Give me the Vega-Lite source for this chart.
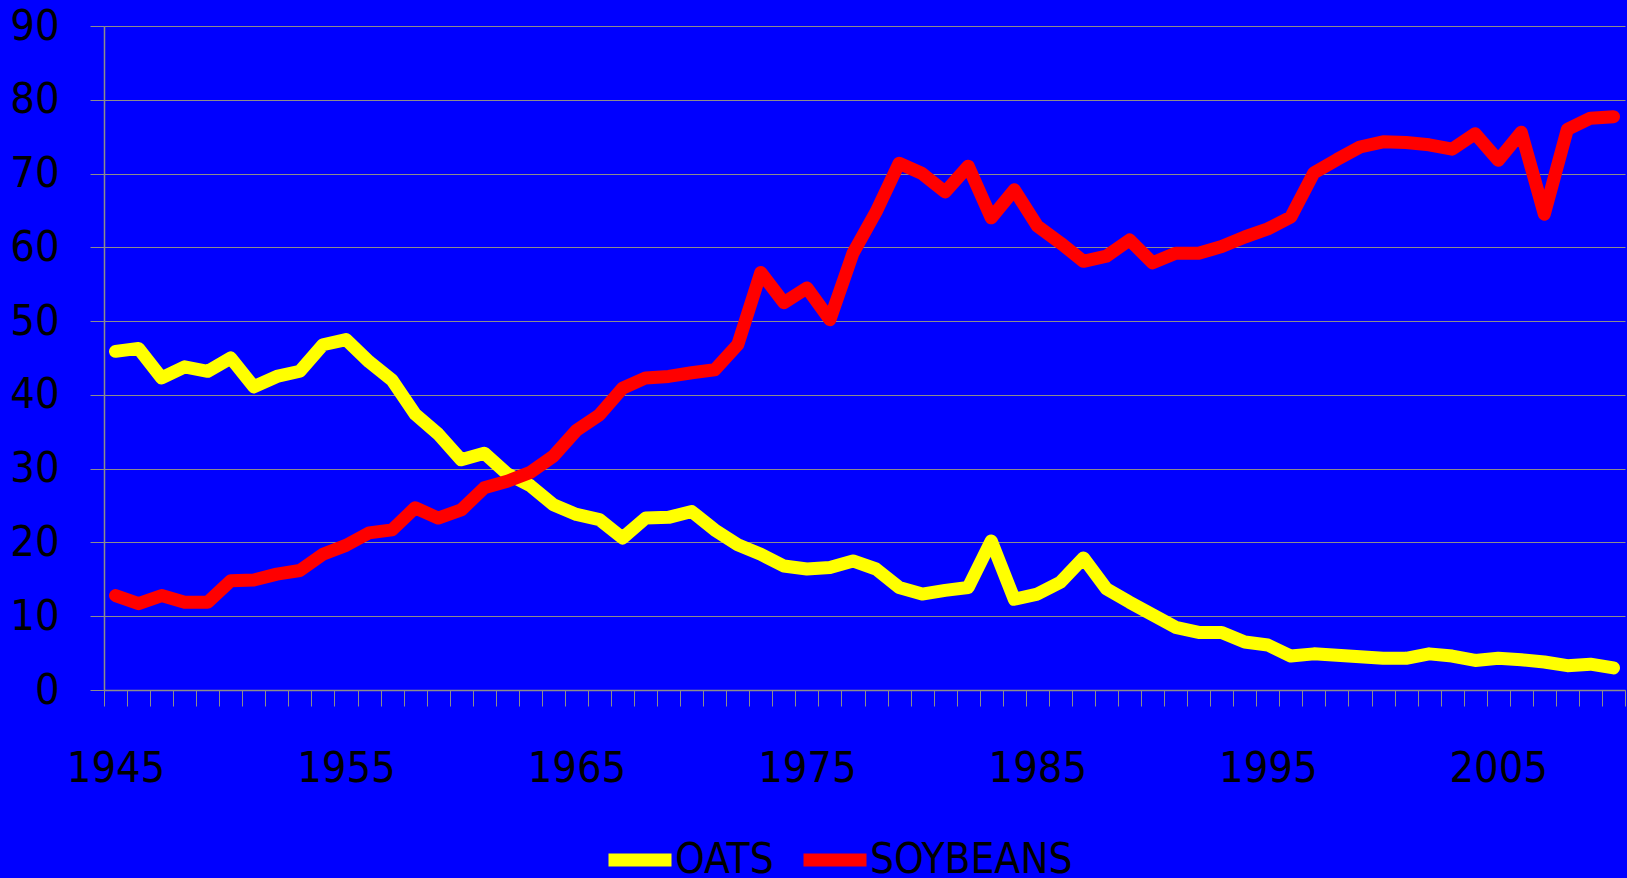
{
  "$schema": "https://vega.github.io/schema/vega-lite/v6.json",
  "autosize": "none",
  "width": 1521,
  "height": 664,
  "padding": {"left": 104, "top": 26, "right": 2, "bottom": 188},
  "background": "#0000FF",
  "config": {
    "view": {"stroke": null},
    "font": "DejaVu Sans Condensed",
    "axis": {"labelFont": "DejaVu Sans Condensed", "labelColor": "#000000", "labelFontSize": 43, "gridColor": "#8c8c8c", "domainColor": "#8c8c8c", "tickColor": "#8c8c8c", "gridWidth": 1, "domainWidth": 1.5, "tickWidth": 1, "title": null}
  },
  "data": {"values": [
    {"year":1945,"crop":"OATS","value":45.9},{"year":1946,"crop":"OATS","value":46.3},{"year":1947,"crop":"OATS","value":42.3},{"year":1948,"crop":"OATS","value":43.8},{"year":1949,"crop":"OATS","value":43.2},{"year":1950,"crop":"OATS","value":45.0},{"year":1951,"crop":"OATS","value":41.1},{"year":1952,"crop":"OATS","value":42.5},{"year":1953,"crop":"OATS","value":43.2},{"year":1954,"crop":"OATS","value":46.8},{"year":1955,"crop":"OATS","value":47.5},{"year":1956,"crop":"OATS","value":44.5},{"year":1957,"crop":"OATS","value":42.0},{"year":1958,"crop":"OATS","value":37.4},{"year":1959,"crop":"OATS","value":34.7},{"year":1960,"crop":"OATS","value":31.2},{"year":1961,"crop":"OATS","value":32.1},{"year":1962,"crop":"OATS","value":29.3},{"year":1963,"crop":"OATS","value":27.7},{"year":1964,"crop":"OATS","value":25.1},{"year":1965,"crop":"OATS","value":23.8},{"year":1966,"crop":"OATS","value":23.1},{"year":1967,"crop":"OATS","value":20.6},{"year":1968,"crop":"OATS","value":23.3},{"year":1969,"crop":"OATS","value":23.4},{"year":1970,"crop":"OATS","value":24.2},{"year":1971,"crop":"OATS","value":21.7},{"year":1972,"crop":"OATS","value":19.7},{"year":1973,"crop":"OATS","value":18.4},{"year":1974,"crop":"OATS","value":16.8},{"year":1975,"crop":"OATS","value":16.4},{"year":1976,"crop":"OATS","value":16.6},{"year":1977,"crop":"OATS","value":17.5},{"year":1978,"crop":"OATS","value":16.4},{"year":1979,"crop":"OATS","value":13.9},{"year":1980,"crop":"OATS","value":13.0},{"year":1981,"crop":"OATS","value":13.5},{"year":1982,"crop":"OATS","value":13.9},{"year":1983,"crop":"OATS","value":20.2},{"year":1984,"crop":"OATS","value":12.3},{"year":1985,"crop":"OATS","value":13.0},{"year":1986,"crop":"OATS","value":14.6},{"year":1987,"crop":"OATS","value":17.9},{"year":1988,"crop":"OATS","value":13.7},{"year":1989,"crop":"OATS","value":11.9},{"year":1990,"crop":"OATS","value":10.2},{"year":1991,"crop":"OATS","value":8.5},{"year":1992,"crop":"OATS","value":7.8},{"year":1993,"crop":"OATS","value":7.8},{"year":1994,"crop":"OATS","value":6.5},{"year":1995,"crop":"OATS","value":6.1},{"year":1996,"crop":"OATS","value":4.6},{"year":1997,"crop":"OATS","value":4.9},{"year":1998,"crop":"OATS","value":4.7},{"year":1999,"crop":"OATS","value":4.5},{"year":2000,"crop":"OATS","value":4.3},{"year":2001,"crop":"OATS","value":4.3},{"year":2002,"crop":"OATS","value":4.9},{"year":2003,"crop":"OATS","value":4.6},{"year":2004,"crop":"OATS","value":4.0},{"year":2005,"crop":"OATS","value":4.3},{"year":2006,"crop":"OATS","value":4.1},{"year":2007,"crop":"OATS","value":3.8},{"year":2008,"crop":"OATS","value":3.3},{"year":2009,"crop":"OATS","value":3.5},{"year":2010,"crop":"OATS","value":3.0},
    {"year":1945,"crop":"SOYBEANS","value":12.8},{"year":1946,"crop":"SOYBEANS","value":11.7},{"year":1947,"crop":"SOYBEANS","value":12.8},{"year":1948,"crop":"SOYBEANS","value":11.9},{"year":1949,"crop":"SOYBEANS","value":11.9},{"year":1950,"crop":"SOYBEANS","value":14.8},{"year":1951,"crop":"SOYBEANS","value":14.9},{"year":1952,"crop":"SOYBEANS","value":15.7},{"year":1953,"crop":"SOYBEANS","value":16.2},{"year":1954,"crop":"SOYBEANS","value":18.4},{"year":1955,"crop":"SOYBEANS","value":19.6},{"year":1956,"crop":"SOYBEANS","value":21.3},{"year":1957,"crop":"SOYBEANS","value":21.7},{"year":1958,"crop":"SOYBEANS","value":24.7},{"year":1959,"crop":"SOYBEANS","value":23.3},{"year":1960,"crop":"SOYBEANS","value":24.4},{"year":1961,"crop":"SOYBEANS","value":27.4},{"year":1962,"crop":"SOYBEANS","value":28.3},{"year":1963,"crop":"SOYBEANS","value":29.5},{"year":1964,"crop":"SOYBEANS","value":31.7},{"year":1965,"crop":"SOYBEANS","value":35.2},{"year":1966,"crop":"SOYBEANS","value":37.3},{"year":1967,"crop":"SOYBEANS","value":40.9},{"year":1968,"crop":"SOYBEANS","value":42.3},{"year":1969,"crop":"SOYBEANS","value":42.5},{"year":1970,"crop":"SOYBEANS","value":43.0},{"year":1971,"crop":"SOYBEANS","value":43.4},{"year":1972,"crop":"SOYBEANS","value":46.8},{"year":1973,"crop":"SOYBEANS","value":56.6},{"year":1974,"crop":"SOYBEANS","value":52.5},{"year":1975,"crop":"SOYBEANS","value":54.5},{"year":1976,"crop":"SOYBEANS","value":50.2},{"year":1977,"crop":"SOYBEANS","value":59.2},{"year":1978,"crop":"SOYBEANS","value":64.8},{"year":1979,"crop":"SOYBEANS","value":71.4},{"year":1980,"crop":"SOYBEANS","value":70.0},{"year":1981,"crop":"SOYBEANS","value":67.5},{"year":1982,"crop":"SOYBEANS","value":71.0},{"year":1983,"crop":"SOYBEANS","value":64.0},{"year":1984,"crop":"SOYBEANS","value":67.8},{"year":1985,"crop":"SOYBEANS","value":62.9},{"year":1986,"crop":"SOYBEANS","value":60.6},{"year":1987,"crop":"SOYBEANS","value":58.1},{"year":1988,"crop":"SOYBEANS","value":58.8},{"year":1989,"crop":"SOYBEANS","value":61.0},{"year":1990,"crop":"SOYBEANS","value":57.9},{"year":1991,"crop":"SOYBEANS","value":59.2},{"year":1992,"crop":"SOYBEANS","value":59.2},{"year":1993,"crop":"SOYBEANS","value":60.1},{"year":1994,"crop":"SOYBEANS","value":61.4},{"year":1995,"crop":"SOYBEANS","value":62.5},{"year":1996,"crop":"SOYBEANS","value":64.1},{"year":1997,"crop":"SOYBEANS","value":70.1},{"year":1998,"crop":"SOYBEANS","value":71.9},{"year":1999,"crop":"SOYBEANS","value":73.6},{"year":2000,"crop":"SOYBEANS","value":74.3},{"year":2001,"crop":"SOYBEANS","value":74.2},{"year":2002,"crop":"SOYBEANS","value":73.9},{"year":2003,"crop":"SOYBEANS","value":73.3},{"year":2004,"crop":"SOYBEANS","value":75.4},{"year":2005,"crop":"SOYBEANS","value":71.8},{"year":2006,"crop":"SOYBEANS","value":75.6},{"year":2007,"crop":"SOYBEANS","value":64.5},{"year":2008,"crop":"SOYBEANS","value":76.0},{"year":2009,"crop":"SOYBEANS","value":77.5},{"year":2010,"crop":"SOYBEANS","value":77.7}
  ]},
  "mark": {"type": "line", "strokeWidth": 13, "strokeCap": "round", "strokeJoin": "round"},
  "encoding": {
    "x": {
      "field": "year", "type": "quantitative",
      "scale": {"domain": [1944.5, 2010.5], "nice": false, "zero": false},
      "axis": {
        "values": [1944.5,1945.5,1946.5,1947.5,1948.5,1949.5,1950.5,1951.5,1952.5,1953.5,1954.5,1955.5,1956.5,1957.5,1958.5,1959.5,1960.5,1961.5,1962.5,1963.5,1964.5,1965.5,1966.5,1967.5,1968.5,1969.5,1970.5,1971.5,1972.5,1973.5,1974.5,1975.5,1976.5,1977.5,1978.5,1979.5,1980.5,1981.5,1982.5,1983.5,1984.5,1985.5,1986.5,1987.5,1988.5,1989.5,1990.5,1991.5,1992.5,1993.5,1994.5,1995.5,1996.5,1997.5,1998.5,1999.5,2000.5,2001.5,2002.5,2003.5,2004.5,2005.5,2006.5,2007.5,2008.5,2009.5,2010.5],
        "labelExpr": "(datum.value % 10 == 4.5 && datum.value < 2010) ? toString(datum.value + 0.5) : ''",
        "labelOffset": 11.5,
        "labelOverlap": false,
        "labelFlush": false,
        "labelBound": false,
        "labelPadding": 41,
        "tickSize": 16,
        "grid": false
      }
    },
    "y": {
      "field": "value", "type": "quantitative",
      "scale": {"domain": [0, 90], "nice": false},
      "axis": {
        "values": [0,10,20,30,40,50,60,70,80,90],
        "grid": true,
        "tickSize": 14,
        "labelPadding": 31,
        "labelFlush": false,
        "domain": true
      }
    },
    "color": {
      "field": "crop", "type": "nominal",
      "scale": {"domain": ["OATS", "SOYBEANS"], "range": ["#FFFF00", "#FF0000"]},
      "legend": {
        "title": null,
        "orient": "none",
        "direction": "horizontal",
        "legendX": 498,
        "legendY": 796,
        "symbolType": "stroke",
        "symbolSize": 3969,
        "symbolStrokeWidth": 13,
        "labelFont": "DejaVu Sans Condensed",
        "labelFontSize": 42,
        "labelColor": "#000000",
        "labelOffset": -3,
        "columnPadding": 3,
        "labelLimit": 400
      }
    }
  }
}
